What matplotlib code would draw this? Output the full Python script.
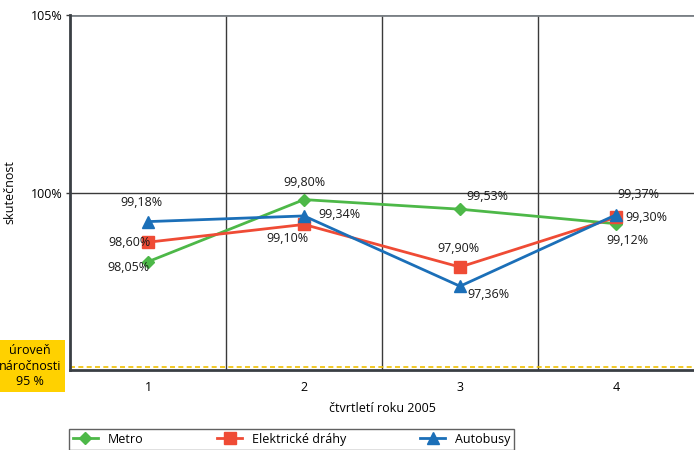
import matplotlib
matplotlib.use("Agg")
import matplotlib.pyplot as plt
from matplotlib.ticker import FixedLocator

plt.rcParams['font.family'] = ['Open Sans', 'DejaVu Sans']

quarters = [1, 2, 3, 4]
metro = [98.05, 99.80, 99.53, 99.12]
tram = [98.60, 99.10, 97.90, 99.30]
bus = [99.18, 99.34, 97.36, 99.37]
series_names = ["Metro", "Elektrické dráhy", "Autobusy"]
ytick_vals = [100, 105]
ytick_labels = ["100%", "105%"]

colors = ["#4db848", "#ef4b35", "#1b6fb8"]
markers = ["D", "s", "^"]
msizes = [6, 8, 8]

fig = plt.figure(figsize=(6.94, 4.5), dpi=100)
ax = fig.add_axes([70/694, 1-370/450, 1-70/694, 355/450])
ax.set_xlim(0.5, 4.5)
ax.set_ylim(95, 105)

for v in [1.5, 2.5, 3.5]:
    ax.axvline(v, color="#3a3a3a", lw=1.0, zorder=1)
ax.axhline(100, color="#3a3a3a", lw=1.0, zorder=1)
ax.axhline(95.09, color="#f0c000", lw=1.2, ls=(0, (3, 2)), zorder=2)

lines = []
for vals, c, m, ms, name in zip([metro, tram, bus], colors, markers, msizes, series_names):
    l, = ax.plot(quarters, vals, color=c, marker=m, ms=ms, lw=2, label=name, zorder=3)
    lines.append(l)

def fmt(v):
    return f"{v:.2f}".replace(".", ",") + "%"

fs = 9
# offsets in points (dx, dy) and alignment
metro_off = [(1, -4, 'right'), (0, 12, 'center'), (4.5, 9, 'left'), (8, -12, 'center')]
tram_off = [(2, 0, 'right'), (-12, -10, 'center'), (-1, 13, 'center'), (6.5, 0, 'left')]
bus_off = [(-5, 13.5, 'center'), (10, 1, 'left'), (5, -6, 'left'), (1, 15, 'left')]
for vals, offs in zip([metro, tram, bus], [metro_off, tram_off, bus_off]):
    for q, v, (dx, dy, ha) in zip(quarters, vals, offs):
        ax.annotate(fmt(v), (q, v), xytext=(dx, dy), textcoords="offset points",
                    ha=ha, va="center", fontsize=fs, color="#1a1a1a", zorder=5)

ax.set_xticks(quarters)
ax.set_xticklabels([str(q) for q in quarters], fontsize=fs)
ax.yaxis.set_major_locator(FixedLocator(ytick_vals))
ax.set_yticklabels(ytick_labels, fontsize=fs)
ax.tick_params(axis='x', length=0, pad=8)
ax.tick_params(axis='y', length=3, width=1, color="#3a3a3a", pad=2)

for s in ["top", "right"]:
    ax.spines[s].set_visible(False)
ax.axhline(105, color="#7a8085", lw=2, zorder=1)
ax.spines["left"].set_color("#3a3f44")
ax.spines["left"].set_linewidth(2)
ax.spines["bottom"].set_color("#3a3f44")
ax.spines["bottom"].set_linewidth(2)

ax.set_xlabel("čtvrtletí roku 2005", fontsize=fs, labelpad=6)
fig.text(10/694, 1-192/450, "skutečnost", rotation=90, ha="center", va="center", fontsize=fs)

fig.text(30/694, 1-366/450, "úroveň\nnáročnosti\n95 %", ha="center", va="center",
         fontsize=fs, linespacing=1.25,
         bbox=dict(boxstyle="square,pad=0.3", fc="#ffd100", ec="none"))

leg = fig.legend(handles=lines, labels=series_names, ncol=3, loc="upper left",
                 bbox_to_anchor=(69/694, 1-429/450), fontsize=fs, frameon=True,
                 fancybox=False, edgecolor="#3a3a3a", handlelength=2.0,
                 columnspacing=5.9, borderaxespad=0, borderpad=0.3)
leg.get_frame().set_linewidth(1.0)

fig.savefig("out.png", dpi=100)
